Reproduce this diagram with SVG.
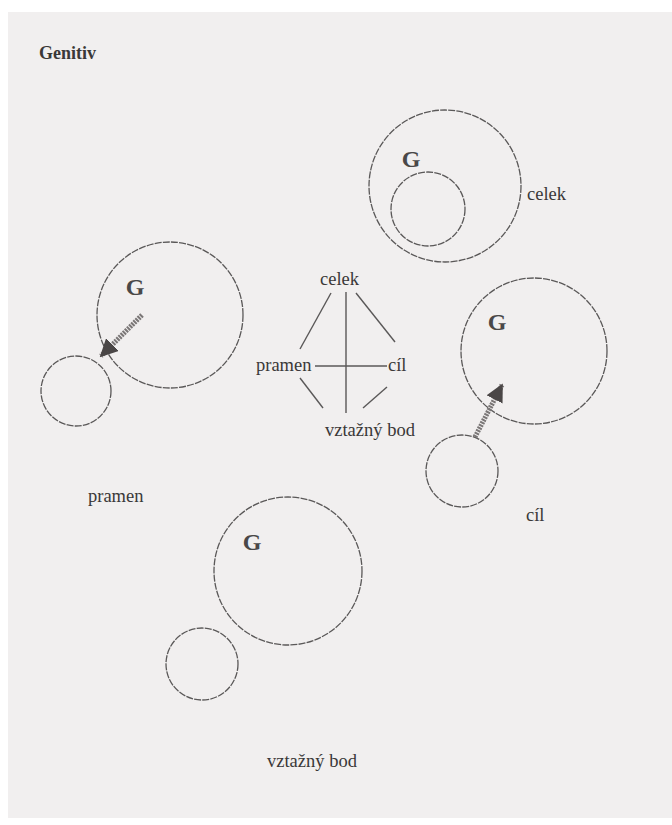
<svg xmlns="http://www.w3.org/2000/svg" width="672" height="825" viewBox="0 0 672 825">
<defs>
<style>
.c{fill:none;stroke:#5a5858;stroke-width:1.3;stroke-dasharray:7 1.2}
.l{stroke:#5a5858;stroke-width:1.4}
.t{font-family:"Liberation Serif","Times New Roman",serif;font-size:18.5px;fill:#3a3838}
.g{font-family:"Liberation Serif","Times New Roman",serif;font-size:24px;font-weight:bold;fill:#4a4848;text-anchor:middle}
.h{font-family:"Liberation Serif","Times New Roman",serif;font-size:18px;font-weight:bold;fill:#3a3838}
.a{stroke:#7a7676;stroke-width:5;stroke-dasharray:2 1}
</style>
<marker id="ah" viewBox="0 0 10 10" refX="9" refY="5" markerWidth="3.6" markerHeight="3.6" orient="auto" markerUnits="strokeWidth">
<path d="M0,0 L10,5 L0,10 Z" fill="#4a4646"/>
</marker>
</defs>
<rect x="0" y="0" width="672" height="825" fill="#ffffff"/>
<rect x="8" y="12" width="664" height="806" fill="#f1efef"/>
<text class="h" x="39" y="59">Genitiv</text>
<g id="celek-diagram">
<circle class="c" cx="445" cy="186" r="76"/>
<circle class="c" cx="428" cy="209" r="37"/>
<text class="g" x="411" y="167">G</text>
<text class="t" x="527" y="200">celek</text>
</g>
<g id="pramen-diagram">
<circle class="c" cx="170" cy="315" r="73"/>
<circle class="c" cx="76" cy="391" r="35"/>
<text class="g" x="135" y="295">G</text>
<text class="t" x="88" y="502">pramen</text>
</g>
<g id="cil-diagram">
<circle class="c" cx="534" cy="351" r="73"/>
<circle class="c" cx="462" cy="471" r="36"/>
<text class="g" x="497" y="330">G</text>
<text class="t" x="526" y="521">cíl</text>
</g>
<g id="vztazny-bod-diagram">
<circle class="c" cx="288" cy="571" r="74"/>
<circle class="c" cx="202" cy="664" r="36"/>
<text class="g" x="252" y="550">G</text>
<text class="t" x="267" y="767">vztažný bod</text>
</g>
<g id="cross">
<text class="t" x="320" y="285">celek</text>
<text class="t" x="256" y="371">pramen</text>
<text class="t" x="388" y="371">cíl</text>
<text class="t" x="325" y="436">vztažný bod</text>
</g>
<g id="connectors">
<line class="a" x1="142" y1="315" x2="101" y2="356" marker-end="url(#ah)"/>
<line class="a" x1="475" y1="437" x2="502" y2="385" marker-end="url(#ah)"/>
<line class="l" x1="346" y1="292" x2="346" y2="413"/>
<line class="l" x1="315" y1="366" x2="387" y2="366"/>
<line class="l" x1="331" y1="293" x2="300" y2="349"/>
<line class="l" x1="356" y1="293" x2="395" y2="342"/>
<line class="l" x1="300" y1="378" x2="323" y2="408"/>
<line class="l" x1="387" y1="387" x2="363" y2="408"/>
</g>
</svg>
